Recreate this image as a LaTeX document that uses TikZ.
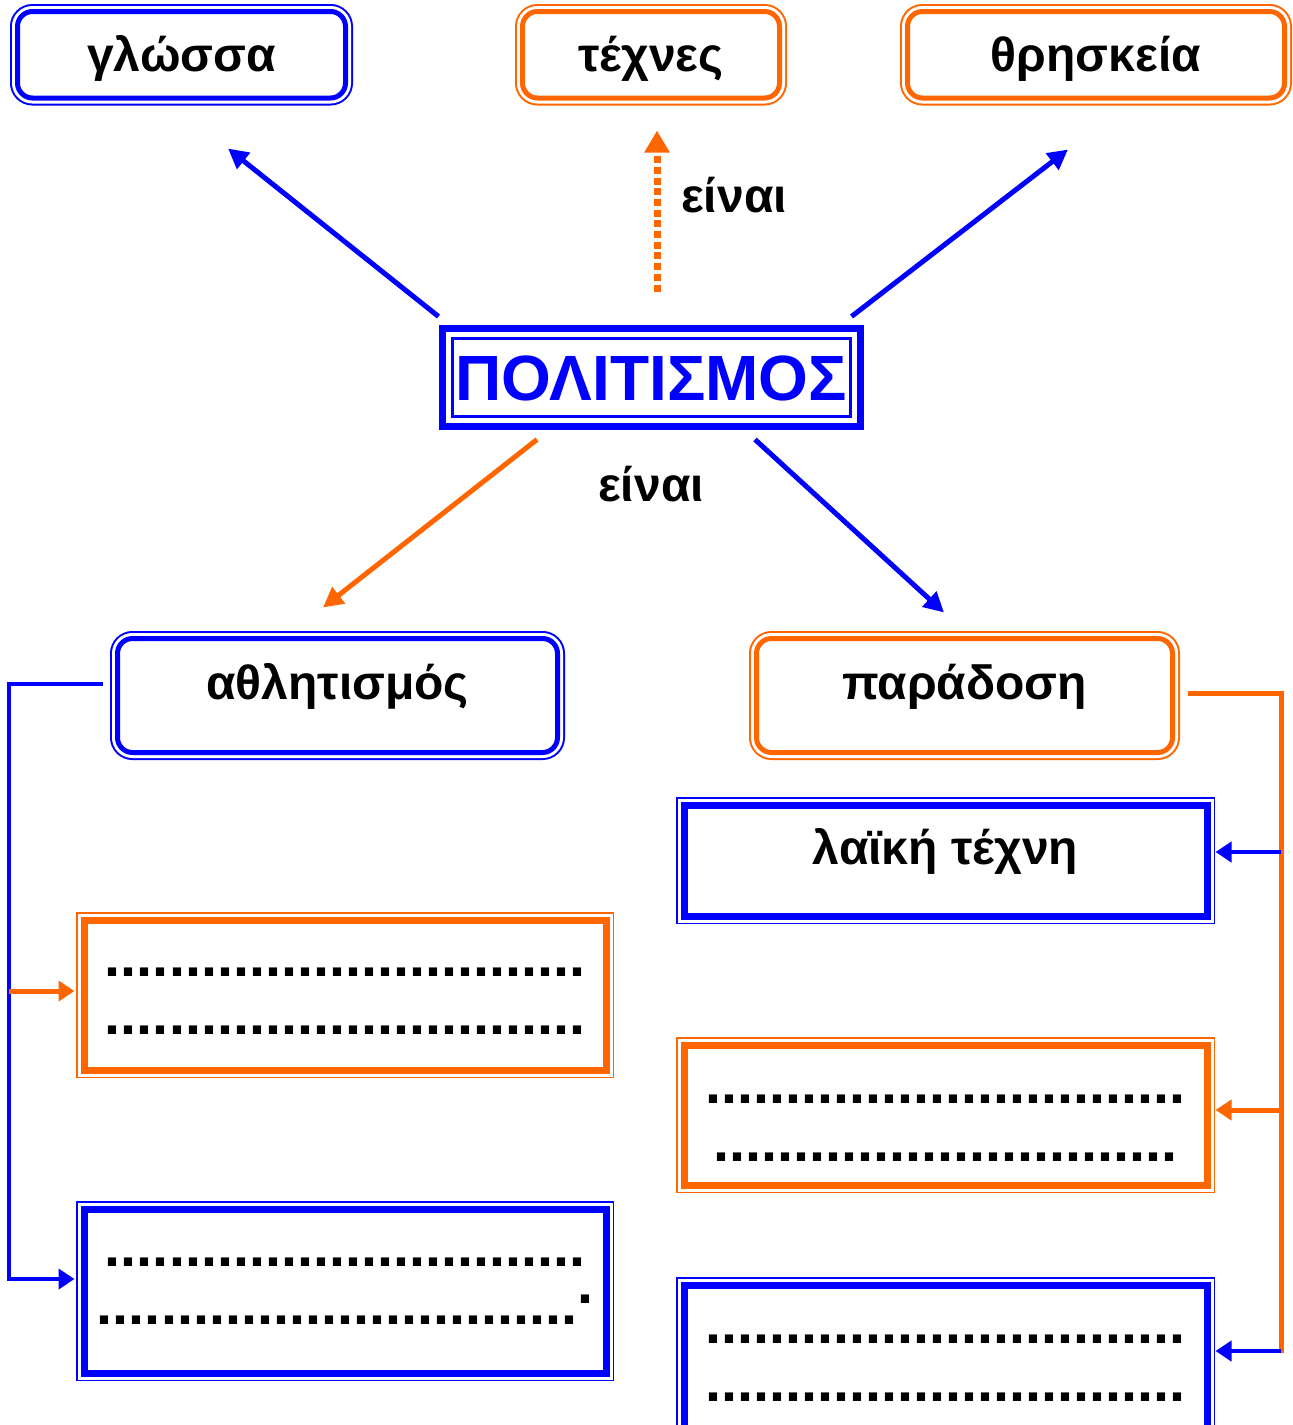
\documentclass[tikz,border=0pt]{standalone}
\usepackage{fontspec}
\setmainfont{Liberation Sans}
\usetikzlibrary{arrows.meta}
\definecolor{cblue}{RGB}{0,0,255}
\definecolor{corange}{RGB}{255,102,0}
\newcommand\lblfont{\fontsize{24}{29}\selectfont\bfseries}
\newcommand\dotfont{\fontsize{28.8}{28.75}\selectfont\bfseries}
\newcommand\dotrow[1]{\foreach \i in {1,...,#1}{.}}
\tikzset{
  rbox/.style={draw=#1, fill=white, line width=2.5pt, rounded corners=7.5pt, inner sep=0pt,
    preaction={draw=#1, line width=7.5pt},
    preaction={draw=white, line width=5.5pt},
    font=\lblfont, text height=21pt, text depth=4pt},
  sbox/.style={draw=#1, fill=white, line width=3.5pt, inner sep=0pt,
    preaction={draw=#1, line width=8pt},
    preaction={draw=white, line width=6.5pt},
    font=\dotfont, align=center, text depth=4pt},
  pbox/.style={draw=#1, fill=white, line width=1.5pt, inner sep=0pt,
    preaction={draw=#1, line width=13.5pt},
    preaction={draw=white, line width=6.5pt},
    text=#1, font=\fontsize{32}{38}\selectfont\bfseries, text height=23pt, text depth=0pt},
  word/.style={font=\lblfont, inner sep=0pt},
  barrow/.style={draw=cblue, line width=2.5pt, -{Triangle[length=10pt,width=10pt]}},
  oarrow/.style={draw=corange, line width=2.5pt, -{Triangle[length=10pt,width=10pt]}},
  bjoin/.style={draw=cblue, line width=2.2pt, -{Triangle[length=8pt,width=10pt]}},
  ojoin/.style={draw=corange, line width=2.5pt, -{Triangle[length=8pt,width=10pt]}},
  olink/.style={draw=corange, line width=2.5pt},
}
\begin{document}
\begin{tikzpicture}[x=0.5pt,y=-0.5pt]
\useasboundingbox (0,0) rectangle (1293,1425);

% top row
\node[rbox=cblue, minimum width=164pt, minimum height=43.25pt] (glossa) at (181.5,54.75) {γλώσσα};
\node[rbox=corange, minimum width=128.5pt, minimum height=43.25pt] (techn) at (651,54.75) {τέχνες};
\node[rbox=corange, minimum width=188.5pt, minimum height=43.25pt] (thrisk) at (1096,54.75) {θρησκεία};

% centre
\node[pbox=cblue, minimum width=198.75pt, minimum height=39pt] (pol) at (651.25,377.5) {ΠΟΛΙΤΙΣΜΟΣ};

% second row
\node[rbox=cblue, minimum width=220pt, minimum height=57pt, text depth=17.5pt] (athl) at (337.5,695.5) {αθλητισμός};
\node[rbox=corange, minimum width=208pt, minimum height=57pt, text depth=17.5pt] (parad) at (964.5,695.5) {παράδοση};

% boxes to fill in
\node[sbox=cblue, minimum width=261.5pt, minimum height=55.5pt, font=\lblfont, text height=21pt, text depth=17.5pt] (laiki) at (945.5,860.5) {λαϊκή τέχνη};
\node[sbox=corange, minimum width=261pt, minimum height=75pt, text height=43pt] (dlo) at (345,995) {\dotrow{30}\\\dotrow{30}};
\node[sbox=cblue, minimum width=261pt, minimum height=82pt, text height=37pt] (dlb) at (345,1291) {\dotrow{30}\\\dotrow{30}\raisebox{.36em}{.}};
\node[sbox=corange, minimum width=261.5pt, minimum height=70pt, text height=50pt] (dro) at (945.5,1115) {\dotrow{30}\\\dotrow{29}};
\node[sbox=cblue, minimum width=261.5pt, minimum height=82.5pt, text height=37.5pt] (drb) at (945.5,1367.5) {\dotrow{30}\\\dotrow{30}};

% labels
\node[word] (einaiup) at (734,195) {είναι};
\node[word] (einaidn) at (651,484) {είναι};

% arrows from the centre
\draw[barrow] ([shift={(-12.5,-20.5)}]pol.north west) -- ([shift={(46.5,48)}]glossa.south);
\draw[oarrow, line width=3.5pt, dash pattern=on 3.5pt off 1.85pt, -{Triangle[length=11pt,width=12pt]}]
  ([shift={(5.75,-45.5)}]pol.north) -- ([shift={(6,30)}]techn.south);
\draw[barrow] ([shift={(0,-20.5)}]pol.north east) -- ([shift={(-28,49)}]thrisk.south);
\draw[oarrow] ([shift={(-114.25,21.5)}]pol.south) -- ([shift={(-14.5,-28.5)}]athl.north);
\draw[barrow] ([shift={(103.75,21.5)}]pol.south) -- ([shift={(-20.5,-23.5)}]parad.north);

% left bracket
\coordinate (lbend) at (9,684);
\coordinate (dloin) at ([shift={(-6,-4)}]dlo.west);
\coordinate (dlbin) at ([shift={(-6,-12)}]dlb.west);
\draw[bjoin] ([shift={(-12.5,-11.5)}]athl.west) -- (lbend) |- (dlbin);
\draw[ojoin] (lbend |- dloin) -- (dloin);

% right bracket
\coordinate (rbtop) at (1281,693);
\coordinate (rbbot) at (1281,1353);
\coordinate (laikiin) at ([shift={(5,-8.5)}]laiki.east);
\coordinate (droin) at ([shift={(5,-5)}]dro.east);
\coordinate (drbin) at ([shift={(5,-16.5)}]drb.east);
\draw[olink] ([shift={(12.5,-2.5)}]parad.east) -- (rbtop) -- (rbbot);
\draw[bjoin] (rbtop |- laikiin) -- (laikiin);
\draw[ojoin] (rbtop |- droin) -- (droin);
\draw[bjoin] (rbbot |- drbin) -- (drbin);
\end{tikzpicture}
\end{document}
